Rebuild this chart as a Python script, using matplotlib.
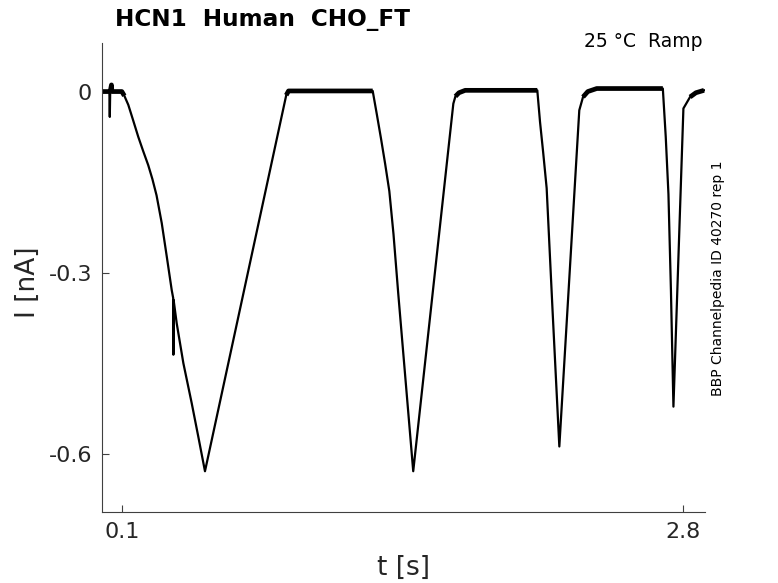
import numpy as np
import matplotlib
matplotlib.use("Agg")
import matplotlib.pyplot as plt

plt.rcParams['font.family'] = ['DejaVu Sans']
plt.rcParams['axes.unicode_minus'] = False

t_s = [0.000, 0.038, 0.040, 0.042, 0.048, 0.050, 0.098,
       0.110, 0.129, 0.150, 0.177, 0.200, 0.225, 0.245, 0.265, 0.290, 0.314, 0.338,
       0.345, 0.346, 0.347, 0.362, 0.394, 0.434, 0.466, 0.498,
       0.889, 0.900,
       1.305, 1.325, 1.345, 1.365, 1.385, 1.405, 1.428, 1.452, 1.476, 1.500,
       1.693, 1.703, 1.720, 1.750,
       2.097, 2.110, 2.125, 2.142, 2.170, 2.203,
       2.299, 2.317, 2.340, 2.383,
       2.701, 2.715, 2.728, 2.740, 2.752,
       2.800, 2.832, 2.860, 2.899]
i_nA = [0.000, 0.000, -0.042, 0.000, 0.011, 0.000, 0.000,
        -0.007, -0.022, -0.045, -0.075, -0.098, -0.122, -0.145, -0.172, -0.218, -0.273, -0.329,
        -0.342, -0.436, -0.345, -0.384, -0.450, -0.516, -0.572, -0.629,
        -0.006, 0.001,
        0.001, -0.038, -0.078, -0.120, -0.165, -0.236, -0.335, -0.433, -0.531, -0.629,
        -0.020, -0.008, -0.002, 0.002,
        0.002, -0.050, -0.100, -0.160, -0.360, -0.588,
        -0.031, -0.009, 0.000, 0.005,
        0.005, -0.075, -0.170, -0.330, -0.522,
        -0.028, -0.009, -0.002, 0.002]

xticks = [0.1, 2.8]
xticklabels = ['0.1', '2.8']
yticks = [-0.6, -0.3, 0]
yticklabels = ['-0.6', '-0.3', '0']

title = 'HCN1  Human  CHO_FT'
cond = '25 °C  Ramp'
source = 'BBP Channelpedia ID 40270 rep 1'

t = np.array(t_s)
cur = np.array(i_nA)

fig = plt.figure(figsize=(7.78, 5.83), dpi=100)
ax = fig.add_axes([0.1307, 0.1213, 0.7755, 0.8045])

ax.plot(t, cur, color='black', lw=1.6)
# the noisy baseline looks like a thick band
flat = np.where(cur > -0.012, cur, np.nan)
ax.plot(t, flat, color='black', lw=3.4, solid_capstyle='butt')

ax.set_xlim(0.001, 2.904)
ax.set_ylim(-0.697, 0.08)
ax.set_xticks(xticks)
ax.set_xticklabels(xticklabels)
ax.set_yticks(yticks)
ax.set_yticklabels(yticklabels)

for s in ['top', 'right']:
    ax.spines[s].set_visible(False)
for s in ['left', 'bottom']:
    ax.spines[s].set_color('#404040')
    ax.spines[s].set_linewidth(0.8)
ax.tick_params(direction='in', length=5, width=0.8, color='#404040',
               labelsize=16, labelcolor='#262626', pad=7)

ax.set_xlabel('t [s]', fontsize=19, color='#262626')
ax.set_ylabel('I [nA]', fontsize=19, color='#262626')
ax.xaxis.label.set_va('center')
ax.yaxis.label.set_va('center')
ax.xaxis.set_label_coords(0.5, -0.119)
ax.yaxis.set_label_coords(-0.122, 0.49)

fig.text(115 / 778, 1 - 26 / 583, title, fontsize=16.7, fontweight='bold',
         ha='left', va='baseline')
fig.text(703 / 778, 1 - 47 / 583, cond, fontsize=13.5, ha='right', va='baseline')
fig.text(718 / 778, 1 - 278 / 583, source, fontsize=10, rotation=90,
         ha='center', va='center')

fig.savefig('out.png', dpi=100)
